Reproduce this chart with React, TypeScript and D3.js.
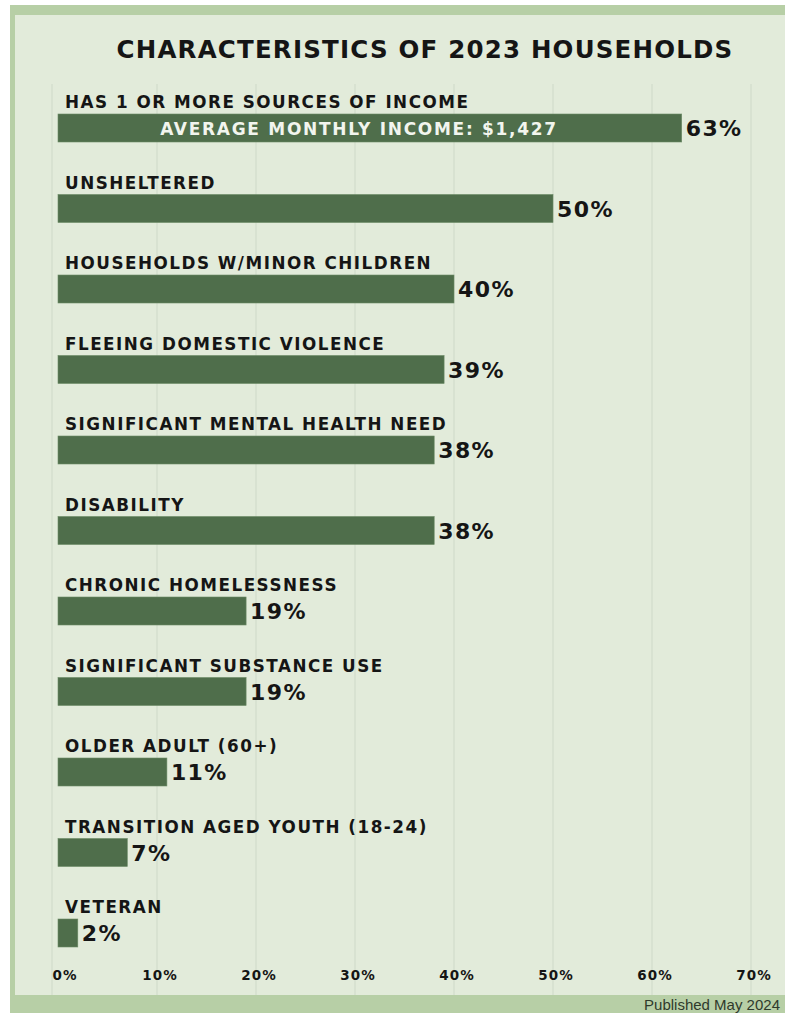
import React from "react";
import * as d3 from "d3";

const categories = [
  "HAS 1 OR MORE SOURCES OF INCOME",
  "UNSHELTERED",
  "HOUSEHOLDS W/MINOR CHILDREN",
  "FLEEING DOMESTIC VIOLENCE",
  "SIGNIFICANT MENTAL HEALTH NEED",
  "DISABILITY",
  "CHRONIC HOMELESSNESS",
  "SIGNIFICANT SUBSTANCE USE",
  "OLDER ADULT (60+)",
  "TRANSITION AGED YOUTH (18-24)",
  "VETERAN",
];
const values = [63, 50, 40, 39, 38, 38, 19, 19, 11, 7, 2];
const ticks = [0, 10, 20, 30, 40, 50, 60, 70];
const title = "CHARACTERISTICS OF 2023 HOUSEHOLDS";
const barNote = "AVERAGE MONTHLY INCOME: $1,427";
const footer = "Published May 2024";

const W = 785;
const H = 1013;
const FONT = "'DejaVu Sans', Lato, sans-serif";

export default function App() {
  const x = d3.scaleLinear().domain([0, 70]).range([58, 751]);
  const rows = d3.scaleBand<string>().domain(categories).range([86, 86 + 80.5 * categories.length]).padding(0);
  const barTop = 28;
  const barH = 28;

  return (
    <svg width={W} height={H} style={{ position: "absolute", left: 0, top: 0, display: "block" }}>
      <rect x={0} y={0} width={W} height={H} fill="#ffffff" />
      <rect x={10} y={5} width={W - 10} height={H - 5} fill="#b7cfa6" />
      <rect x={15} y={15} width={W - 15} height={980} fill="#e2ebda" />
      <line x1={52} x2={52} y1={84} y2={995} stroke="#d2dccb" strokeWidth={1.2} />
      {ticks.slice(1).map((t) => (
        <line key={t} x1={x(t)} x2={x(t)} y1={84} y2={995} stroke="#d2dccb" strokeWidth={1.2} />
      ))}
      <text
        x={425}
        y={58}
        textAnchor="middle"
        fontFamily={FONT}
        fontWeight={700}
        fontSize={24.5}
        letterSpacing={1.2}
        fill="#151515"
      >
        {title}
      </text>
      {categories.map((c, i) => {
        const y0 = rows(c)!;
        const v = values[i];
        return (
          <g key={c}>
            <text
              x={65}
              y={y0 + 22}
              fontFamily={FONT}
              fontWeight={700}
              fontSize={16.8}
              letterSpacing={1.5}
              fill="#151515"
            >
              {c}
            </text>
            <rect x={x(0)} y={y0 + barTop} width={x(v) - x(0)} height={barH} fill="#4f6e4b" stroke="#6c8a66" strokeWidth={0.6} />
            <text
              x={x(v) + 4}
              y={y0 + barTop + barH / 2 + 8}
              fontFamily={FONT}
              fontWeight={700}
              fontSize={22}
              letterSpacing={1.4}
              fill="#151515"
            >
              {v}%
            </text>
            {i === 0 && (
              <text
                x={359}
                y={y0 + barTop + barH / 2 + 6.5}
                textAnchor="middle"
                fontFamily={FONT}
                fontWeight={700}
                fontSize={17}
                letterSpacing={1.7}
                fill="#f2f5ee"
              >
                {barNote}
              </text>
            )}
          </g>
        );
      })}
      {ticks.map((t) => (
        <text
          key={t}
          x={x(t) + (t === 0 ? 7 : 3)}
          y={980}
          textAnchor="middle"
          fontFamily={FONT}
          fontWeight={700}
          fontSize={13.5}
          letterSpacing={1.1}
          fill="#151515"
        >
          {t}%
        </text>
      ))}
      <text x={780} y={1010} textAnchor="end" fontFamily="'Liberation Sans', Arial, sans-serif" fontSize={15} fill="#2f3a2c">
        {footer}
      </text>
    </svg>
  );
}
